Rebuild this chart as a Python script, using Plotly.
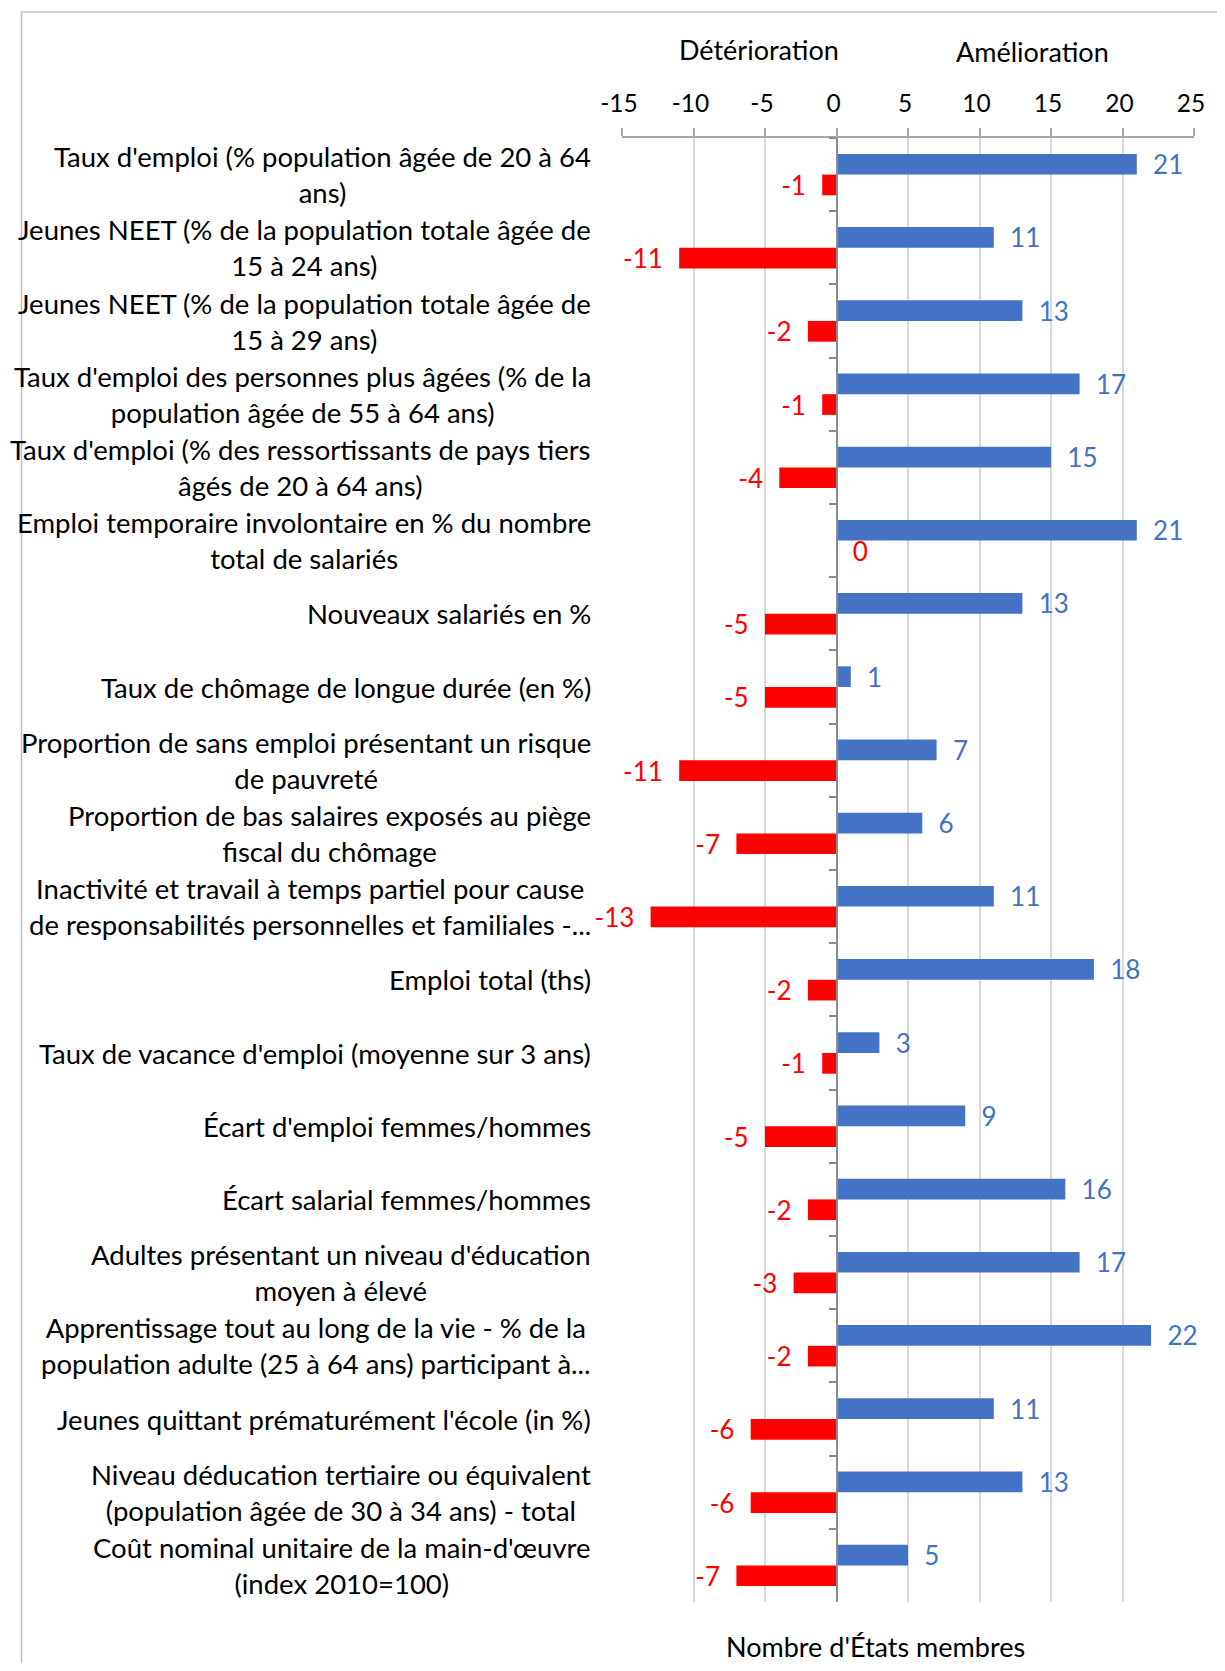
import plotly.graph_objects as go

categories = [
    "Taux d'emploi (% population âgée de 20 à 64<br>ans)",
    "Jeunes NEET (% de la population totale âgée de<br>15 à 24 ans)",
    "Jeunes NEET (% de la population totale âgée de<br>15 à 29 ans)",
    "Taux d'emploi des personnes plus âgées (% de la<br>population âgée de 55 à 64 ans)",
    "Taux d'emploi (% des ressortissants de pays tiers<br>âgés de 20 à 64 ans)",
    "Emploi temporaire involontaire en % du nombre<br>total de salariés",
    "Nouveaux salariés en %",
    "Taux de chômage de longue durée (en %)",
    "Proportion de sans emploi présentant un risque<br>de pauvreté",
    "Proportion de bas salaires exposés au piège<br>fiscal du chômage",
    "Inactivité et travail à temps partiel pour cause<br>de responsabilités personnelles et familiales -...",
    "Emploi total (ths)",
    "Taux de vacance d'emploi (moyenne sur 3 ans)",
    "Écart d'emploi femmes/hommes",
    "Écart salarial femmes/hommes",
    "Adultes présentant un niveau d'éducation<br>moyen à élevé",
    "Apprentissage tout au long de la vie - % de la<br>population adulte (25 à 64 ans) participant à...",
    "Jeunes quittant prématurément l'école (in %)",
    "Niveau déducation tertiaire ou équivalent<br>(population âgée de 30 à 34 ans) - total",
    "Coût nominal unitaire de la main-d'œuvre<br>(index 2010=100)",
]
amelioration = [21, 11, 13, 17, 15, 21, 13, 1, 7, 6, 11, 18, 3, 9, 16, 17, 22, 11, 13, 5]
deterioration = [-1, -11, -2, -1, -4, 0, -5, -5, -11, -7, -13, -2, -1, -5, -2, -3, -2, -6, -6, -7]
x_range = [-15, 25]
x_ticks = [-15, -10, -5, 0, 5, 10, 15, 20, 25]
x_ticktext = [str(v) for v in x_ticks]
x_title = "Nombre d'États membres"
left_title = "Détérioration"
right_title = "Amélioration"

BLUE = "#4472C4"
RED = "#FF0000"
FONT = "Lato"

# page is 1225x1671; the browser body adds an 8px margin on each side
OFF = 8
W, H = 1225 - 2 * OFF, 1671 - 2 * OFF
# plot area in page pixels: x 622..1204, y 138..1602
L = 622 - OFF
T = 138 - OFF
R = W - (1204 - OFF)
B = H - (1602 - OFF)
PW = W - L - R
PH = H - T - B


def px_x(px):
    return (px - OFF - L) / PW


def px_y(py):
    return 1 - (py - OFF - T) / PH


NB = "\u00a0\u00a0"
blue_text = [NB + str(v) for v in amelioration]
red_text = [(str(v) + NB) if v < 0 else (NB + str(v)) for v in deterioration]

fig = go.Figure()
fig.add_trace(go.Bar(
    y=categories, x=amelioration, orientation="h", name=right_title,
    marker=dict(color=BLUE, line=dict(width=0)),
    text=blue_text, textposition="outside", constraintext="none",
    cliponaxis=False, textfont=dict(color=BLUE, size=26, family=FONT),
))
fig.add_trace(go.Bar(
    y=categories, x=deterioration, orientation="h", name=left_title,
    marker=dict(color=RED, line=dict(width=0)),
    text=red_text, textposition="outside", constraintext="none",
    cliponaxis=False, textfont=dict(color=RED, size=26, family=FONT),
))

zero_pos = (0 - x_range[0]) / (x_range[1] - x_range[0])

fig.update_layout(
    width=W, height=H,
    margin=dict(l=L, r=R, t=T, b=B, pad=0),
    paper_bgcolor="white", plot_bgcolor="white",
    barmode="group", bargap=0.435, bargroupgap=0,
    showlegend=False,
    font=dict(family=FONT, size=26, color="black"),
    xaxis=dict(
        range=x_range, tickvals=x_ticks, ticktext=x_ticktext, side="top",
        ticks="outside", ticklen=8, tickcolor="#A6A6A6", tickwidth=1.5,
        ticklabelstandoff=6, ticklabelshift=-3,
        showline=True, linecolor="#A6A6A6", linewidth=1.5,
        showgrid=True, gridcolor="#D9D9D9", gridwidth=1.5,
        zeroline=False,
        tickfont=dict(size=24.5, family=FONT, color="black"),
    ),
    yaxis=dict(
        type="category", autorange="reversed",
        anchor="free", position=zero_pos,
        showticklabels=False, ticks="outside", tickson="boundaries",
        ticklen=7, tickcolor="#8C8C8C", tickwidth=1.5,
        showline=True, linecolor="#8C8C8C", linewidth=1.5,
        showgrid=False, zeroline=False,
    ),
)

for c in categories:
    fig.add_annotation(
        x=px_x(593), xref="paper", y=c, yref="y",
        text=c, showarrow=False, xanchor="right", yanchor="middle",
        align="center", font=dict(size=27.5, family=FONT, color="black"),
    )

fig.add_annotation(x=px_x(761), y=px_y(49), xref="paper", yref="paper",
                   text=left_title, showarrow=False, xanchor="center", yanchor="middle",
                   font=dict(size=27, family=FONT, color="black"))
fig.add_annotation(x=px_x(1040), y=px_y(51), xref="paper", yref="paper",
                   text=right_title, showarrow=False, xanchor="center", yanchor="middle",
                   font=dict(size=27, family=FONT, color="black"))
fig.add_annotation(x=px_x(880), y=px_y(1646), xref="paper", yref="paper",
                   text=x_title, showarrow=False, xanchor="center", yanchor="middle",
                   font=dict(size=27, family=FONT, color="black"))

fig.add_shape(type="rect", xref="paper", yref="paper",
              x0=px_x(11), x1=px_x(1260), y0=px_y(1700), y1=px_y(12),
              line=dict(color="#BFBFBF", width=1.5), fillcolor="rgba(0,0,0,0)",
              layer="below")

fig.write_html("out.html", config={"displayModeBar": False})
